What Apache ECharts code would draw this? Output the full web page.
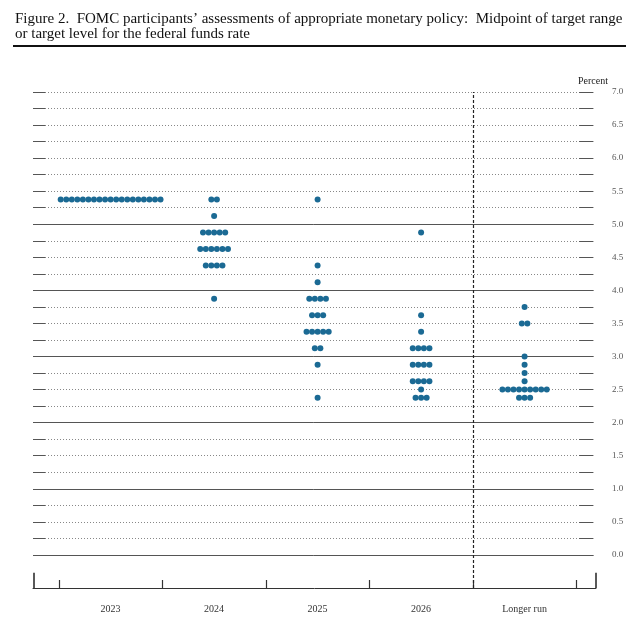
<!DOCTYPE html>
<html><head><meta charset="utf-8">
<script src="https://cdn.jsdelivr.net/npm/echarts@6/dist/echarts.min.js"></script>
<style>html,body{margin:0;padding:0;background:#fff}#c{width:640px;height:626px}</style>
</head><body><div id="c"></div>
<script>
// ---- data ----
const categories = ['2023', '2024', '2025', '2026', 'Longer run'];
const rates2023 = [5.375];
const counts2023 = [19];
const rates2024 = [5.375, 5.125, 4.875, 4.625, 4.375, 3.875];
const counts2024 = [2, 1, 5, 6, 4, 1];
const rates2025 = [5.375, 4.375, 4.125, 3.875, 3.625, 3.375, 3.125, 2.875, 2.375];
const counts2025 = [1, 1, 1, 4, 3, 5, 2, 1, 1];
const rates2026 = [4.875, 3.625, 3.375, 3.125, 2.875, 2.625, 2.5, 2.375];
const counts2026 = [1, 1, 1, 4, 4, 4, 1, 3];
const ratesLR = [3.75, 3.5, 3.0, 2.875, 2.75, 2.625, 2.5, 2.375];
const countsLR = [1, 2, 1, 1, 1, 1, 9, 3];
const yTickLabels = ['0.0','0.5','1.0','1.5','2.0','2.5','3.0','3.5','4.0','4.5','5.0','5.5','6.0','6.5','7.0'];

// ---- layout helpers ----
const STEP = 0.0536;
const XMIN = -0.25, XMAX = 5.19, YMIN = -0.5, YMAX = 7;
const DOT = '#1b6a94';
const SERIF = 'Liberation Serif';

function dots(col, rates, counts) {
  const out = [];
  rates.forEach((r, i) => {
    const n = counts[i];
    for (let j = 0; j < n; j++) out.push([col + 0.5 + (j - (n - 1) / 2) * STEP, r]);
  });
  return out;
}
const cols = [[rates2023, counts2023], [rates2024, counts2024], [rates2025, counts2025], [rates2026, counts2026], [ratesLR, countsLR]];

const gridLines = [];
for (let k = 0; k <= 28; k++) {
  const v = k * 0.25;
  const solid = (k % 4 === 0) && v <= 5;
  gridLines.push([{coord: [XMIN, v], lineStyle: solid ? {type: 'solid', color: '#555', width: 1} : {type: [1, 2], color: '#888', width: 1}}, {coord: [5.165, v]}]);
}
const dashes = [];
for (let k = 0; k <= 28; k++) {
  const v = k * 0.25;
  dashes.push([{coord: [XMIN, v]}, {coord: [-0.133, v]}]);
  dashes.push([{coord: [5.027, v]}, {coord: [5.165, v]}]);
}
const tickSegs = [
  [{coord: [XMIN + 0.005, YMIN]}, {coord: [XMIN + 0.005, YMIN + 0.23]}],
  [{coord: [XMAX - 0.005, YMIN]}, {coord: [XMAX - 0.005, YMIN + 0.23]}]
];

const series = [
  {type: 'line', data: [], silent: true, markLine: {silent: true, symbol: 'none', animation: false, label: {show: false}, data: gridLines}},
  {type: 'line', data: [], silent: true, markLine: {silent: true, symbol: 'none', animation: false, label: {show: false}, lineStyle: {type: 'solid', color: '#555', width: 1}, data: dashes}},
  {type: 'line', data: [], silent: true, markLine: {silent: true, symbol: 'none', animation: false, label: {show: false}, lineStyle: {type: 'solid', color: '#222', width: 1.5}, data: tickSegs}},
  {type: 'line', data: [], silent: true, markLine: {silent: true, symbol: 'none', animation: false, label: {show: false}, lineStyle: {type: [3, 2], color: '#222', width: 1.2}, data: [[{coord: [4, YMIN]}, {coord: [4, YMAX]}]]}}
];
cols.forEach((c, i) => {
  series.push({type: 'scatter', name: categories[i], data: dots(i, c[0], c[1]), symbol: 'circle', symbolSize: 6, itemStyle: {color: DOT, opacity: 1}, animation: false, z: 5});
});

const chart = echarts.init(document.getElementById('c'), null, {renderer: 'canvas'});
chart.setOption({
  animation: false,
  backgroundColor: '#fff',
  grid: {left: 33, right: 44, top: 92, bottom: 38},
  xAxis: {
    type: 'value', min: XMIN, max: XMAX,
    axisLine: {show: true, onZero: false, lineStyle: {color: '#333', width: 1}},
    axisTick: {show: true, inside: true, length: 8, customValues: [0, 1, 2, 3, 4, 5], lineStyle: {color: '#333', width: 1.2}},
    axisLabel: {show: true, customValues: [0.5, 1.5, 2.5, 3.5, 4.5], formatter: v => categories[Math.floor(v)], fontFamily: SERIF, fontSize: 10, color: '#333', margin: 16},
    splitLine: {show: false}
  },
  yAxis: {
    type: 'value', min: YMIN, max: YMAX, interval: 0.5, position: 'right',
    axisLine: {show: false}, axisTick: {show: false}, splitLine: {show: false},
    axisLabel: {formatter: v => v < 0 ? '' : yTickLabels[Math.round(v * 2)], fontFamily: SERIF, fontSize: 9, color: '#555', margin: 16}
  },
  graphic: [
    {type: 'text', left: 15, top: 12, style: {text: 'Figure 2.  FOMC participants\u2019 assessments of appropriate monetary policy:  Midpoint of target range', font: '15px "Liberation Serif"', fill: '#111'}},
    {type: 'text', left: 15, top: 27, style: {text: 'or target level for the federal funds rate', font: '15px "Liberation Serif"', fill: '#111'}},
    {type: 'rect', left: 13, top: 45, shape: {width: 613, height: 2}, style: {fill: '#111'}},
    {type: 'text', left: 578, top: 76, style: {text: 'Percent', font: '10px "Liberation Serif"', fill: '#222'}}
  ],
  series: series
});
</script>
</body></html>
